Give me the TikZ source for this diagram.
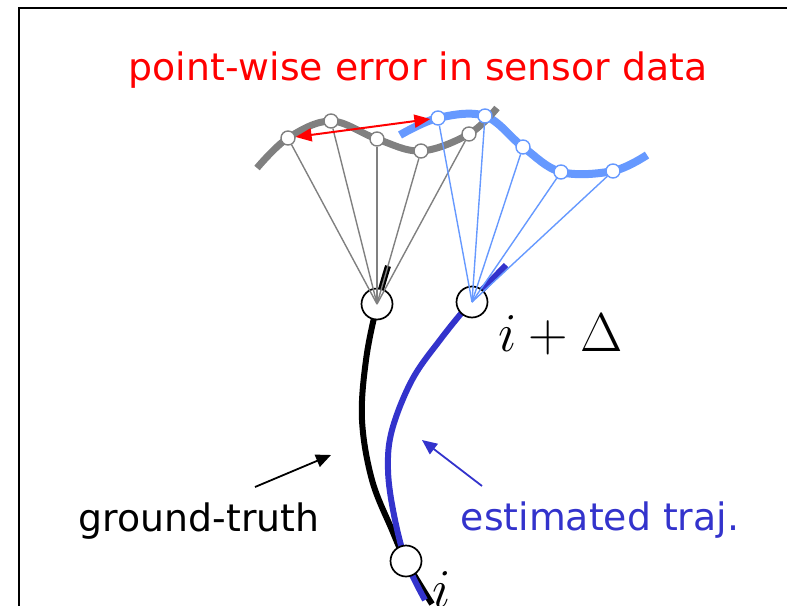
\documentclass[tikz,border=0pt]{standalone}
\usepackage{graphicx}
\usepackage{fontspec}
\newfontfamily\labfont{DejaVu Sans}
\usetikzlibrary{arrows.meta}
\definecolor{lblue}{HTML}{6699FF}
\definecolor{dblue}{HTML}{3333CC}
\definecolor{gcol}{HTML}{808080}
\tikzset{
  sgray/.style={circle,draw=gcol,fill=white,line width=1.4pt,minimum size=14pt,inner sep=0pt},
  sblue/.style={circle,draw=lblue,fill=white,line width=1.4pt,minimum size=14pt,inner sep=0pt},
  bigc/.style={circle,draw=black,fill=white,line width=1.7pt,minimum size=31pt,inner sep=0pt},
  thing/.style={gcol,line width=1.4pt},
  thinb/.style={lblue,line width=1.4pt},
  lab/.style={font=\labfont\fontsize{37.8}{42}\selectfont,inner sep=0pt},
  mlab/.style={inner sep=0pt},
  tip/.style={-{Triangle[length=15pt,width=13pt]}}
}
\begin{document}
\begin{tikzpicture}[x=1pt,y=-1pt]
\useasboundingbox (0,0) rectangle (787,605);
\clip (0,0) rectangle (787,605);
\draw[line width=2pt] (19,8) rectangle (830,650);
% title
\node[lab,red,anchor=base] (title) at (418,80) {point-wise error in sensor data};
% sensor curves
\draw[lblue,line width=8pt] plot[smooth,tension=0.6] coordinates {(400,135) (438,118) (485,116) (523,147) (561,172) (613,171) (647,155)};
\draw[gcol,line width=7pt] plot[smooth,tension=0.6] coordinates {(257,168) (288,138) (331,121) (377,139) (421,151) (469,134) (497,108)};
% trajectories
\draw[black,line width=6pt] plot[smooth,tension=0.6] coordinates {(388,266) (377,305) (366,360) (362,420) (372,480) (392,530) (406,561) (432,604)};
\draw[dblue,line width=6pt] plot[smooth,tension=0.6] coordinates {(506,265) (471,302) (440,340) (412,380) (392,430) (388,470) (394,515) (406,561) (425,600)};
% pose nodes
\coordinate (gtc) at (377,304);
\coordinate (etc) at (472,302);
\node[sgray] (g1) at (288,138) {};
\node[sgray] (g2) at (331,121) {};
\node[sgray] (g3) at (377,139) {};
\node[sgray] (g4) at (421,151) {};
\node[sgray] (g5) at (469,134) {};
\node[sblue] (b1) at (438,118) {};
\node[sblue] (b2) at (485,116) {};
\node[sblue] (b3) at (523,147) {};
\node[sblue] (b4) at (561,172) {};
\node[sblue] (b5) at (613,171) {};
\node[bigc] (gt) at (gtc) {};
\node[bigc] (et) at (etc) {};
\node[bigc] (st) at (406,561) {};
\foreach \n in {g1,g2,g3,g4,g5} \draw[thing] (\n) -- (gtc);
\foreach \n in {b1,b2,b3,b4,b5} \draw[thinb] (\n) -- (etc);
\draw[red,line width=2pt,{Triangle[length=16pt,width=13pt]}-{Triangle[length=16pt,width=13pt]}] (g1) -- (b1);
% labels
\node[mlab,anchor=base west] (ild) at (498,351) {\scalebox{2.2}{\Huge$i+\Delta$}};
\node[mlab,anchor=base west] (il) at (432,607) {\scalebox{2.2}{\Huge$i$}};
\node[lab,anchor=base] (gtl) at (199,531) {ground-truth};
\node[lab,dblue,anchor=base] (etl) at (600,530) {estimated traj.};
\coordinate (ga0) at (255,487);
\coordinate (ga1) at (331,455);
\coordinate (ea0) at (482,486);
\coordinate (ea1) at (422,440);
\draw[tip,line width=1.8pt] (ga0) -- (ga1);
\draw[tip,dblue,line width=1.8pt] (ea0) -- (ea1);
\end{tikzpicture}
\end{document}
